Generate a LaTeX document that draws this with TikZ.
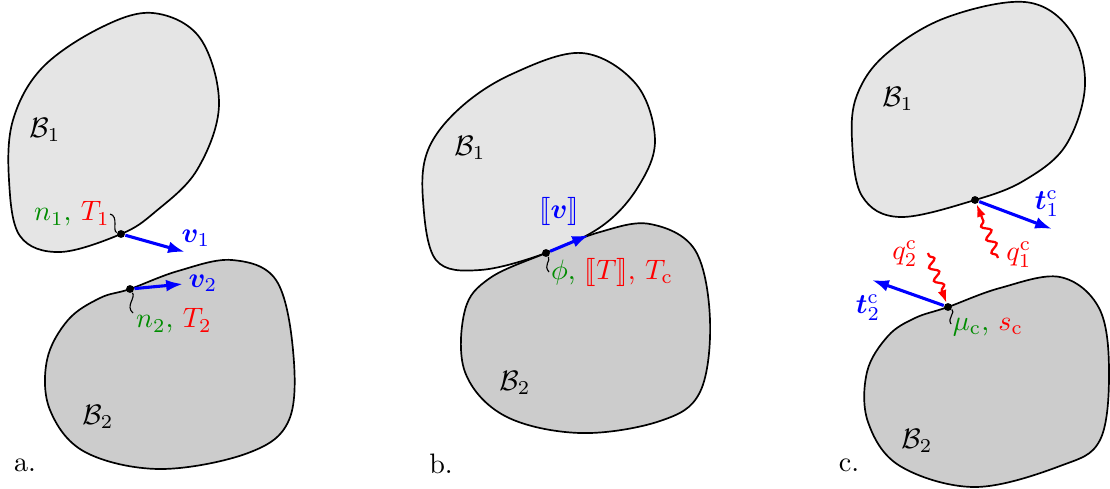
\documentclass[tikz,border=0pt]{standalone}
\usepackage{amsmath,bm,stmaryrd}
\usetikzlibrary{arrows.meta,decorations.pathmorphing}
\definecolor{gA}{gray}{0.9}
\definecolor{gB}{gray}{0.8}
\definecolor{dgreen}{rgb}{0,0.55,0}
\begin{document}
\begin{tikzpicture}[x=0.0125cm,y=-0.0125cm,
 bodyA/.style={draw=black,line width=0.6pt,fill=gA},
 bodyB/.style={draw=black,line width=0.6pt,fill=gB},
 dot/.style={circle,fill=black,inner sep=0pt,minimum size=2.8pt},
 vec/.style={draw=blue,line width=1.1pt,-{Latex[length=6pt,width=4.2pt]}},
 heat/.style={draw=red,line width=0.8pt,-{Latex[length=4.5pt,width=3.2pt]},decorate,decoration={snake,amplitude=1.5pt,segment length=5pt,pre length=1pt,post length=4.5pt}},
 squig/.style={draw=black,line width=0.4pt},
 lab/.style={inner sep=1pt}]
\useasboundingbox (0,0) rectangle (1110,488);

% ---------------- panel a ----------------
\draw[bodyA] plot[smooth cycle,tension=0.6] coordinates {(153,13) (200,38) (219,105) (197,170) (155,212) (121,234) (60,252) (20,236) (9,180) (13,120) (42,68) (100,28)};
\draw[bodyB] plot[smooth cycle,tension=0.6] coordinates {(130,289) (178,271) (232,260) (276,280) (293,350) (289,420) (248,453) (160,469) (85,452) (50,410) (47,360) (68,320) (100,298)};
\node[lab] (Ba1) at (45,130) {$\mathcal{B}_1$};
\node[lab] (Ba2) at (98,417) {$\mathcal{B}_2$};
\node[lab] (pa) at (25,465) {a.};
\node[dot] (pa1) at (121,234) {};
\node[dot] (pa2) at (130,289) {};
\coordinate (va1) at (185,252);
\coordinate (va2) at (183,284);
\draw[vec] (pa1) -- (va1);
\draw[vec] (pa2) -- (va2);
\node[lab,text=blue] (lv1) at (196,238) {$\bm{v}_1$};
\node[lab,text=blue] (lv2) at (203,283) {$\bm{v}_2$};
\node[lab] (la1) at (72,214) {\color{dgreen}$n_1$, \color{red}$T_1$};
\node[lab] (la2) at (174,321) {\color{dgreen}$n_2$, \color{red}$T_2$};
\coordinate (sa1) at (110,214);
\coordinate (sa2) at (133,313);
\draw[squig] (sa1) .. controls (119,216) and (112,231) .. (pa1);
\draw[squig] (pa2) .. controls (136,298) and (125,306) .. (sa2);

% ---------------- panel b ----------------
\draw[bodyA] plot[smooth cycle,tension=0.6] coordinates {(582,53) (636,84) (655,140) (638,187) (602,226) (546,253) (480,270) (436,260) (423,200) (428,150) (460,108) (512,74)};
\draw[bodyB] plot[smooth cycle,tension=0.6] coordinates {(546,253) (600,232) (650,224) (695,250) (710,320) (700,392) (660,421) (580,433) (505,416) (465,372) (465,310) (490,278)};
\node[lab] (Bb1) at (470,148) {$\mathcal{B}_1$};
\node[lab] (Bb2) at (515,383) {$\mathcal{B}_2$};
\node[lab] (pb) at (441,464) {b.};
\node[dot] (pb1) at (546,253) {};
\coordinate (vb) at (589,235);
\draw[vec] (pb1) -- (vb);
\node[lab,text=blue] (lvb) at (559,211) {$\llbracket\bm{v}\rrbracket$};
\node[lab] (lb) at (612,272) {\color{dgreen}$\phi$, \color{red}$\llbracket T\rrbracket$, $T_{\mathrm{c}}$};
\coordinate (sb) at (549,272);
\draw[squig] (pb1) .. controls (551,261) and (543,265) .. (sb);

% ---------------- panel c ----------------
\draw[bodyA] plot[smooth cycle,tension=0.6] coordinates {(1025,2) (1070,30) (1085,85) (1066,145) (1025,180) (975,200) (900,217) (862,196) (852,140) (857,95) (885,55) (945,18)};
\draw[bodyB] plot[smooth cycle,tension=0.6] coordinates {(948,307) (1000,288) (1060,277) (1099,308) (1109,370) (1100,440) (1060,466) (975,487) (900,466) (868,422) (867,372) (888,336) (915,318)};
\node[lab] (Bc1) at (898,99) {$\mathcal{B}_1$};
\node[lab] (Bc2) at (917,441) {$\mathcal{B}_2$};
\node[lab] (pc) at (849,465) {c.};
\node[dot] (pc1) at (975,200) {};
\node[dot] (pc2) at (948,307) {};
\coordinate (tc1) at (1052,229);
\coordinate (tc2) at (872,280);
\draw[vec] (pc1) -- (tc1);
\draw[vec] (pc2) -- (tc2);
\node[lab,text=blue] (lt1) at (1047,204) {$\bm{t}_1^{\mathrm{c}}$};
\node[lab,text=blue] (lt2) at (868,308) {$\bm{t}_2^{\mathrm{c}}$};
\coordinate (qs1) at (998,258);
\coordinate (qs2) at (928,253);
\draw[heat] (qs1) -- (pc1);
\draw[heat] (qs2) -- (pc2);
\node[lab,text=red] (lq1) at (1019,255) {$q_1^{\mathrm{c}}$};
\node[lab,text=red] (lq2) at (905,254) {$q_2^{\mathrm{c}}$};
\node[lab] (lc) at (988,327) {\color{dgreen}$\mu_{\mathrm{c}}$, \color{red}$s_{\mathrm{c}}$};
\coordinate (sc) at (951,324);
\draw[squig] (pc2) .. controls (956,312) and (947,318) .. (sc);
\end{tikzpicture}
\end{document}
